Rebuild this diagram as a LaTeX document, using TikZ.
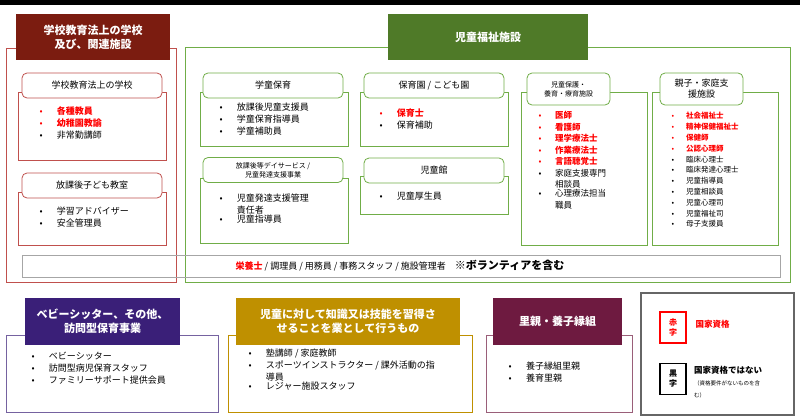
\documentclass[tikz,border=0pt]{standalone}
\usepackage{fontspec}
\setmainfont{Noto Sans CJK JP}
\definecolor{schred}{HTML}{7B1C10}
\definecolor{welgreen}{HTML}{4F7A28}
\definecolor{bsit}{HTML}{3A1F78}
\definecolor{gold}{HTML}{BF9000}
\definecolor{foster}{HTML}{6E1A40}
\definecolor{boxgreen}{HTML}{70AD47}
\definecolor{boxred}{HTML}{C0504D}
\tikzset{
 header/.style={draw=none,text=white,font=\bfseries\fontsize{11}{14}\selectfont,align=center},
 tab/.style={draw,fill=white,rounded corners=5pt,font=\fontsize{9}{11}\selectfont,align=center,line width=0.8pt},
 body/.style={draw,line width=0.8pt},
 item/.style={anchor=north west,font=\fontsize{9}{12}\selectfont,align=left},
}
\newcommand{\bl}[1]{\textbullet\hspace{1.6em}\parbox[t]{24em}{#1}}
\newcommand{\rl}[1]{\textcolor{red}{\textbullet}\hspace{1.6em}\textcolor{red}{\textbf{#1}}}
\begin{document}
\begin{tikzpicture}[x=1pt,y=-1pt]
\useasboundingbox (0,0) rectangle (800,418);
\fill (0,0) rectangle (800,5);
% school
\draw[boxred,line width=1pt] (6,48) rectangle (176,282);
\node[header,fill=schred,minimum width=154pt,minimum height=46pt] (school) at (93,37) {学校教育法上の学校\\及び、関連施設};
\draw[body,boxred] (18,92) rectangle (166,160);
\node[tab,draw=boxred,minimum width=140pt,minimum height=25pt] (law) at (92,85.5) {学校教育法上の学校};
\node[item] (lawlist) at (36,103) {\rl{各種教員}\\\rl{幼稚園教諭}\\\bl{非常勤講師}};
\draw[body,boxred] (18,192) rectangle (166,245);
\node[tab,draw=boxred,minimum width=140pt,minimum height=25pt] (after) at (92,185.5) {放課後子ども教室};
\node[item] (afterlist) at (36,203) {\bl{学習アドバイザー}\\\bl{安全管理員}};
% welfare
\draw[boxgreen,line width=1pt] (185,47) rectangle (790,282);
\node[header,fill=welgreen,minimum width=200pt,minimum height=46pt] (welfare) at (488,37) {児童福祉施設};
\draw[body,boxgreen] (200,92) rectangle (348,146);
\node[tab,draw=boxgreen,minimum width=140pt,minimum height=25pt] (gakudo) at (273,85.5) {学童保育};
\node[item] (gakudolist) at (216,99) {\bl{放課後児童支援員}\\\bl{学童保育指導員}\\\bl{学童補助員}};
\draw[body,boxgreen] (200,178) rectangle (348,243);
\node[tab,draw=boxgreen,minimum width=140pt,minimum height=25pt,font=\fontsize{7}{9}\selectfont] (day) at (273,170) {放課後等デイサービス /\\児童発達支援事業};
\node[item] (daylist) at (216,190) {\bl{児童発達支援管理\\責任者}\\\bl{児童指導員}};
\draw[body,boxgreen] (360,92) rectangle (508,146);
\node[tab,draw=boxgreen,minimum width=140pt,minimum height=25pt] (nursery) at (434,85.5) {保育園 / こども園};
\node[item] (nurserylist) at (376,105) {\rl{保育士}\\\bl{保育補助}};
\draw[body,boxgreen] (360,176) rectangle (508,214);
\node[tab,draw=boxgreen,minimum width=140pt,minimum height=25pt] (hall) at (434,170.5) {児童館};
\node[item] (halllist) at (376,188) {\bl{児童厚生員}};
\draw[body,boxgreen] (521,92) rectangle (647,245);
\node[tab,draw=boxgreen,minimum width=83pt,minimum height=32pt,font=\fontsize{7}{9}\selectfont] (care) at (568.5,89) {児童保護・\\養育・療育施設};
\node[item,font=\fontsize{8.5}{11.5}\selectfont] (carelist) at (535,108) {\rl{医師}\\\rl{看護師}\\\rl{理学療法士}\\\rl{作業療法士}\\\rl{言語聴覚士}\\\bl{家庭支援専門\\相談員}\\\bl{心理療法担当\\職員}};
\draw[body,boxgreen] (652,92) rectangle (778,245);
\node[tab,draw=boxgreen,minimum width=83pt,minimum height=32pt] (family) at (701.5,89) {親子・家庭支\\援施設};
\node[item,font=\fontsize{7.5}{10.8}\selectfont] (familylist) at (668,109) {\rl{社会福祉士}\\\rl{精神保健福祉士}\\\rl{保健師}\\\rl{公認心理師}\\\bl{臨床心理士}\\\bl{臨床発達心理士}\\\bl{児童指導員}\\\bl{児童相談員}\\\bl{児童心理司}\\\bl{児童福祉司}\\\bl{母子支援員}};
\draw[gray!70,line width=0.8pt] (22,255) rectangle (780,277);
\node[font=\fontsize{9}{11}\selectfont] (staff) at (400,266) {\textcolor{red}{\textbf{栄養士}} / 調理員 / 用務員 / 事務スタッフ / 施設管理者\quad{\bfseries\fontsize{11}{13}\selectfont ※ボランティアを含む}};
% bottom row
\draw[bsit!70,line width=1pt] (6,335) rectangle (218,412);
\node[header,fill=bsit,minimum width=155pt,minimum height=47pt] (sitter) at (102.5,321.5) {ベビーシッター、その他、\\訪問型保育事業};
\node[item] (sitterlist) at (28,349) {\bl{ベビーシッター}\\\bl{訪問型病児保育スタッフ}\\\bl{ファミリーサポート提供会員}};
\draw[gold,line width=1pt] (228,335) rectangle (472,412);
\node[header,fill=gold,minimum width=224pt,minimum height=47pt] (teach) at (348,321.5) {児童に対して知識又は技能を習得さ\\せることを業として行うもの};
\node[item] (teachlist) at (245,345) {\bl{塾講師 / 家庭教師}\\\bl{\mbox{スポーツインストラクター / 課外活動の指}\\導員}\\\bl{レジャー施設スタッフ}};
\draw[foster!70,line width=1pt] (486,335) rectangle (632,412);
\node[header,fill=foster,minimum width=129pt,minimum height=47pt] (foster) at (557.5,321.5) {里親・養子縁組};
\node[item] (fosterlist) at (505,358) {\bl{養子縁組里親}\\\bl{養育里親}};
% legend
\draw[gray!80!black,line width=2.5pt] (641,293) rectangle (794,415);
\node[draw=red,line width=1.5pt,minimum width=26pt,minimum height=31pt,align=center,text=red,font=\bfseries\fontsize{8}{10}\selectfont] (redkey) at (673,327.5) {赤\\字};
\node[anchor=west,text=red,font=\bfseries\fontsize{8.5}{10}\selectfont] (redtext) at (692,324) {国家資格};
\node[draw,line width=1.5pt,minimum width=26pt,minimum height=31pt,align=center,font=\bfseries\fontsize{8}{10}\selectfont] (blackkey) at (673,379) {黒\\字};
\node[anchor=north west,align=left,inner sep=1pt] (blacktext) at (693,365) {{\bfseries\fontsize{8.5}{10}\selectfont 国家資格ではない}\\{\fontsize{5.5}{7}\selectfont （資格要件がないものを含}\\{\fontsize{5.5}{7}\selectfont む）}};
\end{tikzpicture}
\end{document}
